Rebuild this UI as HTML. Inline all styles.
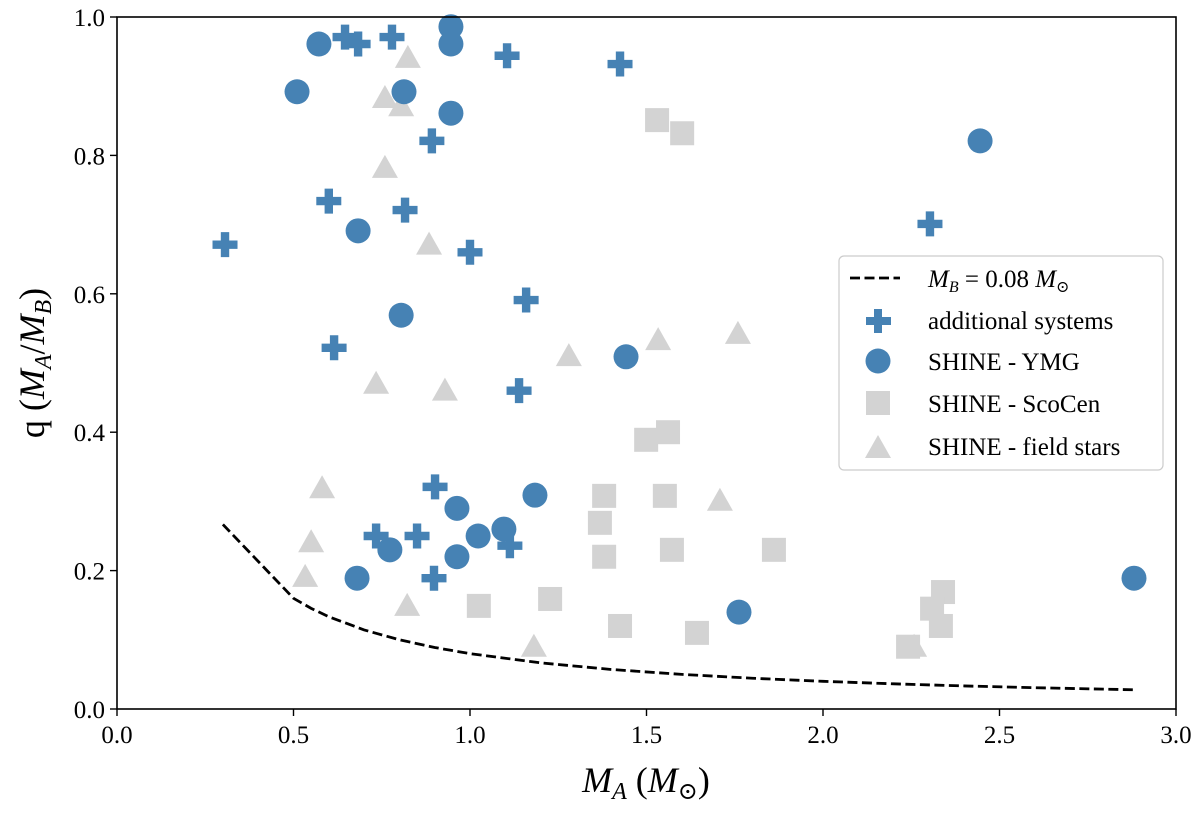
<!DOCTYPE html>
<html><head><meta charset="utf-8">
<style>
html,body{margin:0;padding:0;background:#fff;}
svg{display:block;font-family:"Liberation Serif","DejaVu Serif",serif;}
</style></head>
<body>
<svg id="chart" width="1200" height="816" viewBox="0 0 1200 816" xmlns="http://www.w3.org/2000/svg">
<g id="marks"></g>
<g id="axes"></g>
</svg>
<script>
const xTicks=[0.0,0.5,1.0,1.5,2.0,2.5,3.0];
const yTicks=[0.0,0.2,0.4,0.6,0.8,1.0];
const addX=[0.646,0.683,0.779,1.105,1.425,0.892,0.600,0.816,0.306,1.0,1.159,0.615,1.139,2.303,0.901,0.734,0.850,1.113,0.898];
const addY=[0.971,0.961,0.971,0.944,0.932,0.821,0.734,0.721,0.671,0.660,0.591,0.522,0.460,0.701,0.321,0.25,0.25,0.236,0.189];
const ymgX=[0.572,0.946,0.946,0.51,0.813,0.946,2.445,0.683,0.805,1.442,1.184,0.963,1.023,1.096,0.773,0.963,0.680,1.762,2.881];
const ymgY=[0.961,0.986,0.961,0.892,0.892,0.861,0.821,0.691,0.569,0.509,0.309,0.290,0.25,0.26,0.23,0.22,0.189,0.14,0.189];
const scoX=[1.530,1.601,1.499,1.561,1.380,1.368,1.552,1.572,1.380,1.861,1.025,1.227,1.425,1.643,2.340,2.309,2.334,2.241];
const scoY=[0.851,0.832,0.389,0.400,0.308,0.269,0.308,0.23,0.22,0.23,0.149,0.159,0.12,0.11,0.169,0.145,0.12,0.09];
const fieldX=[0.824,0.759,0.805,0.759,0.884,1.533,1.759,1.280,0.734,0.929,0.581,0.550,1.708,0.533,0.822,1.181,2.258];
const fieldY=[0.941,0.883,0.871,0.782,0.671,0.533,0.542,0.510,0.470,0.460,0.319,0.241,0.301,0.191,0.149,0.09,0.09];
const limitMA=[0.3,0.5,0.55,0.6,0.7,0.8,0.9,1.0,1.2,1.4,1.6,1.8,2.0,2.2,2.4,2.6,2.88];
const MB=0.08;

const L=117,R=1176,T=17,B=709;
const sx=v=>L+(v-0)/3*(R-L);
const sy=v=>B-(v-0)/1*(B-T);
const NS="http://www.w3.org/2000/svg";
const marks=document.getElementById('marks');
const axes=document.getElementById('axes');
function mk(tag,attrs,parent){const e=document.createElementNS(NS,tag);for(const k in attrs)e.setAttribute(k,attrs[k]);parent.appendChild(e);return e;}
const BLUE="#4682b4",GRAY="#d3d3d3";
function cross(cx,cy,p){const a=12.5,w=4.2;return mk('path',{d:`M${cx-w},${cy-a}H${cx+w}V${cy-w}H${cx+a}V${cy+w}H${cx+w}V${cy+a}H${cx-w}V${cy+w}H${cx-a}V${cy-w}H${cx-w}Z`,fill:BLUE},p);}
function square(cx,cy,p){return mk('rect',{x:cx-12,y:cy-12,width:24,height:24,fill:GRAY},p);}
function tri(cx,cy,p){return mk('path',{d:`M${cx},${cy-13}L${cx+13},${cy+10}L${cx-13},${cy+10}Z`,fill:GRAY},p);}
function circ(cx,cy,p){return mk('circle',{cx:cx,cy:cy,r:12.5,fill:BLUE},p);}

let d='';limitMA.forEach((m,i)=>{d+=(i?'L':'M')+sx(m)+','+sy(MB/m);});
const ln=mk('path',{d:d,fill:'none',stroke:'#000','stroke-width':2.8,'stroke-dasharray':'10,4.5'},marks);



fieldX.forEach((x,i)=>{const e=tri(sx(x),sy(fieldY[i]),marks);

});
scoX.forEach((x,i)=>{const e=square(sx(x),sy(scoY[i]),marks);

});
addX.forEach((x,i)=>{const e=cross(sx(x),sy(addY[i]),marks);

});
ymgX.forEach((x,i)=>{const e=circ(sx(x),sy(ymgY[i]),marks);

});

const fr=mk('rect',{x:L,y:T,width:R-L,height:B-T,fill:'none',stroke:'#000','stroke-width':1.6},axes);


xTicks.forEach(v=>{const x=sx(v);
mk('line',{x1:x,x2:x,y1:B,y2:B+7,stroke:'#000','stroke-width':1.4},axes);
const t=mk('text',{x:x,y:B+34,'text-anchor':'middle','font-size':25},axes);t.textContent=v.toFixed(1);

});
yTicks.forEach(v=>{const y=sy(v);
mk('line',{x1:L-7,x2:L,y1:y,y2:y,stroke:'#000','stroke-width':1.4},axes);
const t=mk('text',{x:L-12,y:y+9,'text-anchor':'end','font-size':25},axes);t.textContent=v.toFixed(1);

});
</script>
<svg style="position:absolute;left:0;top:0" width="1200" height="816" xmlns="http://www.w3.org/2000/svg" font-family="Liberation Serif, DejaVu Serif, serif">
<text x="646" y="792" text-anchor="middle" font-size="36"><tspan font-style="italic">M</tspan><tspan font-size="24" dy="7" font-style="italic">A</tspan><tspan dy="-7"> (</tspan><tspan font-style="italic">M</tspan><tspan font-size="24" dy="7">⊙</tspan><tspan dy="-7">)</tspan></text>
<text transform="translate(44,363) rotate(-90)" text-anchor="middle" font-size="36">q (<tspan font-style="italic">M</tspan><tspan font-size="24" dy="7" font-style="italic">A</tspan><tspan dy="-7">/</tspan><tspan font-style="italic">M</tspan><tspan font-size="24" dy="7" font-style="italic">B</tspan><tspan dy="-7">)</tspan></text>
<g>
<rect x="839" y="256" width="324" height="214" rx="5" fill="#fff" fill-opacity="0.85" stroke="#ccc" stroke-width="1.2"/>
<line x1="850" y1="278" x2="900" y2="278" stroke="#000" stroke-width="2.8" stroke-dasharray="10,4.5"/>
<text x="928" y="287" font-size="25"><tspan font-style="italic">M</tspan><tspan font-size="16" dy="5" font-style="italic">B</tspan><tspan dy="-5"> = 0.08 </tspan><tspan font-style="italic">M</tspan><tspan font-size="16" dy="5">⊙</tspan></text>
<path d="M874,309H882V317H891V325H882V333H874V325H866V317H874Z" fill="#4682b4"/>
<text x="928" y="329" font-size="25">additional systems</text>
<circle cx="878" cy="361" r="12.5" fill="#4682b4"/>
<text x="928" y="370" font-size="25">SHINE - YMG</text>
<rect x="866" y="391" width="24" height="24" fill="#d3d3d3"/>
<text x="928" y="412" font-size="25">SHINE - ScoCen</text>
<path d="M878,435L891,458L865,458Z" fill="#d3d3d3"/>
<text x="928" y="455" font-size="25">SHINE - field stars</text>
</g>
</svg>
</body></html>
